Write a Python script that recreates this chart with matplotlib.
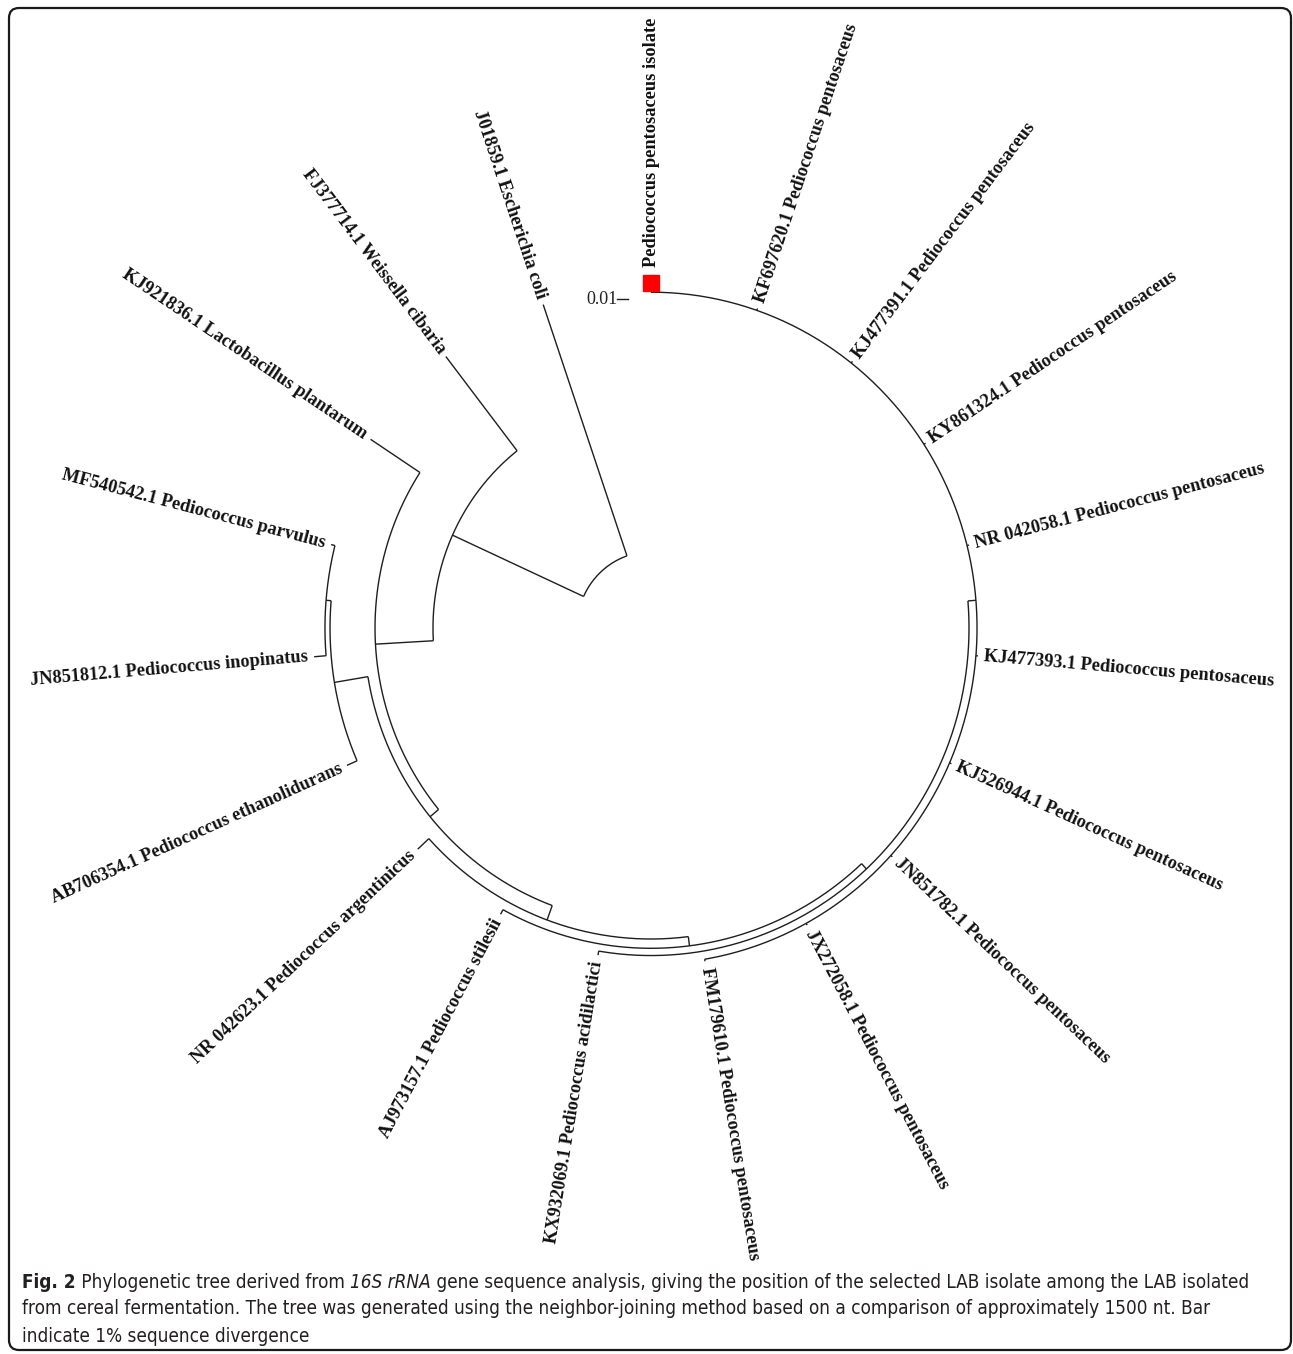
import numpy as np
import matplotlib
matplotlib.use("Agg")
import matplotlib.pyplot as plt
from matplotlib.patches import FancyBboxPatch
from matplotlib import font_manager

# ---------------------------------------------------------------- data
# Taxa in clockwise order, starting with the query isolate at the top
taxa = [
    "Pediococcus pentosaceus isolate",
    "KF697620.1 Pediococcus pentosaceus",
    "KJ477391.1 Pediococcus pentosaceus",
    "KY861324.1 Pediococcus pentosaceus",
    "NR 042058.1 Pediococcus pentosaceus",
    "KJ477393.1 Pediococcus pentosaceus",
    "KJ526944.1 Pediococcus pentosaceus",
    "JN851782.1 Pediococcus pentosaceus",
    "JX272058.1 Pediococcus pentosaceus",
    "FM179610.1 Pediococcus pentosaceus",
    "KX932069.1 Pediococcus acidilactici",
    "AJ973157.1 Pediococcus stilesii",
    "NR 042623.1 Pediococcus argentinicus",
    "AB706354.1 Pediococcus ethanolidurans",
    "JN851812.1 Pediococcus inopinatus",
    "MF540542.1 Pediococcus parvulus",
    "KJ921836.1 Lactobacillus plantarum",
    "FJ377714.1 Weissella cibaria",
    "J01859.1 Escherichia coli",
]

# Root-to-tip distance of every taxon (substitutions per site)
tip_depth = [0.2982, 0.2982, 0.2982, 0.2982, 0.2982, 0.2982, 0.2982,
             0.2982, 0.2982, 0.2982, 0.2927, 0.2873, 0.2882, 0.3018,
             0.3073, 0.3000, 0.3045, 0.3036, 0.3018]

# Internal nodes: children (taxon index or node name) and root distance
node_children = {
    "root": ["A", 18],
    "A": ["C", 17],
    "C": ["D", 16],
    "D": ["PB", "P"],
    "P": [13, "Q"],
    "Q": [14, 15],
    "PB": ["S", 12],
    "S": ["T", 11],
    "T": ["U", 10],
    "U": [0, 1, 2, 3, 4, 5, 6, 7, 8, 9],
}
node_depth = {
    "root": 0.0673, "A": 0.1982, "C": 0.2509, "D": 0.2609, "P": 0.2918,
    "Q": 0.2964, "PB": 0.2745, "S": 0.2827, "T": 0.2891, "U": 0.2964,
}

scale_bar_value = 0.01
highlight_taxon = 0

caption_parts = [
    ("Fig. 2", "bold", "normal"),
    (" Phylogenetic tree derived from ", "normal", "normal"),
    ("16S rRNA", "normal", "italic"),
    (" gene sequence analysis, giving the position of the selected LAB isolate among the LAB isolated", "normal", "normal"),
]
caption_lines = [
    "from cereal fermentation. The tree was generated using the neighbor-joining method based on a comparison of approximately 1500 nt. Bar",
    "indicate 1% sequence divergence",
]

# ---------------------------------------------------------------- layout
W, H = 1293, 1354
CX, CY = 651, 628           # tree centre (pixels)
PX_PER_UNIT = 1100          # pixels per substitution/site
STRETCH_Y = 1.03            # vertical stretch of the circular layout
LINE_COLOR = "#1e1e1e"
LW = 1.0
LABEL_GAP = 6               # pixels between tip and label
LABEL_SIZE = 13.2

fig = plt.figure(figsize=(W / 100, H / 100), dpi=100)
ax = fig.add_axes([0, 0, 1, 1])
ax.set_xlim(0, W)
ax.set_ylim(H, 0)
ax.axis("off")


def to_xy(depth, ang):
    a = np.radians(ang)
    r = np.asarray(depth) * PX_PER_UNIT
    return CX + r * np.cos(a), CY - r * np.sin(a) * STRETCH_Y


n_taxa = len(taxa)
leaf_angle = [90 - k * 360 / n_taxa for k in range(n_taxa)]
node_angle = {}


def angle_of(item):
    if isinstance(item, int):
        return leaf_angle[item]
    if item not in node_angle:
        kids = node_children[item]
        node_angle[item] = 0.5 * (angle_of(kids[0]) + angle_of(kids[-1]))
    return node_angle[item]


def depth_of(item):
    return tip_depth[item] if isinstance(item, int) else node_depth[item]


# arcs of internal nodes and radial branches to their children
for name, kids in node_children.items():
    d = node_depth[name]
    a0, a1 = angle_of(kids[0]), angle_of(kids[-1])
    arc = np.linspace(a0, a1, 200)
    x, y = to_xy(np.full_like(arc, d), arc)
    ax.plot(x, y, color=LINE_COLOR, lw=LW, solid_capstyle="butt")
    for k in kids:
        ak = angle_of(k)
        x, y = to_xy([d, depth_of(k)], [ak, ak])
        ax.plot(x, y, color=LINE_COLOR, lw=LW, solid_capstyle="butt")

# taxon labels
serif = ["Liberation Serif", "DejaVu Serif"]
for k, name in enumerate(taxa):
    ang = leaf_angle[k]
    a = np.radians(ang)
    screen = np.degrees(np.arctan2(np.sin(a) * STRETCH_Y, np.cos(a)))
    gap = LABEL_GAP + (16 if k == highlight_taxon else 0)
    r = tip_depth[k] + gap / PX_PER_UNIT
    x, y = to_xy(r, ang)
    if -90 <= screen <= 90:
        rot, ha = screen, "left"
    else:
        rot, ha = (screen - 180 if screen > 0 else screen + 180), "right"
    ax.text(x, y, name, rotation=rot, rotation_mode="anchor", ha=ha,
            va="center", fontsize=LABEL_SIZE, fontweight="bold", family=serif,
            color="#111111")

# marker on the query isolate
mx, my = to_xy(tip_depth[highlight_taxon] + 7 / PX_PER_UNIT,
               leaf_angle[highlight_taxon])
ax.plot(mx, my, marker="s", ms=11, color="#ff0000", mec="#ff0000")

# scale bar
bar_x1, bar_y = 628, 299
bar_x0 = bar_x1 - scale_bar_value * PX_PER_UNIT
ax.plot([bar_x0, bar_x1], [bar_y, bar_y], color=LINE_COLOR, lw=LW)
ax.text(bar_x0 + 1, bar_y, f"{scale_bar_value:.2f}", ha="right", va="center",
        fontsize=13, family=serif, color="#222222")

# frame
frame = FancyBboxPatch((9, 8), W - 11, H - 12,
                       boxstyle="round,pad=0,rounding_size=10",
                       fc="none", ec="#1a1a1a", lw=1.6)
ax.add_patch(frame)

# caption: pick a narrow sans face when one is installed
fonts = font_manager.fontManager.ttflist
names = {f.name for f in fonts}
cap_family, cap_stretch = ["Liberation Sans"], "normal"
if "Liberation Sans Narrow" in names:
    cap_family = ["Liberation Sans Narrow"]
elif any(f.name == "DejaVu Sans" and f.stretch == "condensed" for f in fonts):
    cap_family, cap_stretch = ["DejaVu Sans"], "condensed"
elif any(f.name == "Open Sans" and f.stretch in ("condensed", "semi-condensed") for f in fonts):
    cap_family, cap_stretch = ["Open Sans"], "condensed"

cap_color = "#231f20"
renderer = fig.canvas.get_renderer()
x_left, y0, target_width = 22, 1282, 1236


def draw_first_line(size):
    items, x = [], x_left
    for text, weight, style in caption_parts:
        t = ax.text(x, y0, text, ha="left", va="center", fontsize=size,
                    fontweight=weight, fontstyle=style, family=cap_family,
                    fontstretch=cap_stretch, color=cap_color)
        items.append(t)
        x += t.get_window_extent(renderer=renderer).width
    return items, x - x_left


items, width = draw_first_line(14.0)
cap_size = 14.0 * target_width / width
for t in items:
    t.remove()
draw_first_line(cap_size)
for i, line in enumerate(caption_lines):
    ax.text(x_left, y0 + 27 * (i + 1), line, ha="left", va="center",
            fontsize=cap_size, family=cap_family, fontstretch=cap_stretch,
            color=cap_color)

fig.savefig("out.png", dpi=100)
